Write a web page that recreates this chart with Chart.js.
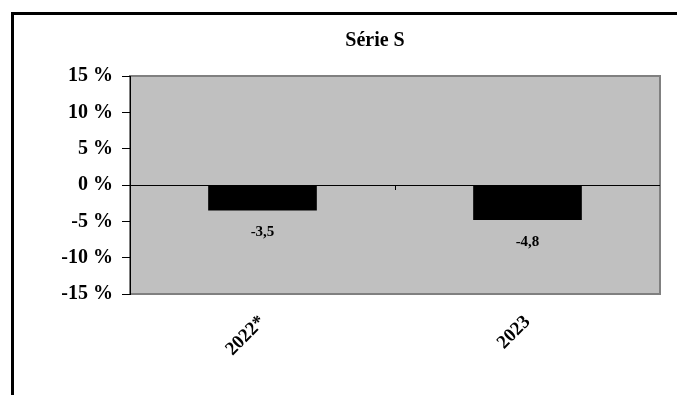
<!DOCTYPE html>
<html>
<head>
<meta charset="utf-8">
<script src="https://cdn.jsdelivr.net/npm/chart.js@4/dist/chart.umd.min.js"></script>
<style>
  html, body { margin: 0; padding: 0; background: #fff; }
  #frame {
    position: absolute; left: 11px; top: 12px; width: 700px; height: 400px;
    border-left: 3px solid #000; border-top: 3px solid #000;
  }
  #wrap { position: absolute; left: 0; top: 0; width: 677px; height: 395px; }
</style>
</head>
<body>
<div id="frame"></div>
<div id="wrap"><canvas id="myChart" width="677" height="395"></canvas></div>
<script>
const categories = ['2022*', '2023'];
const values = [-3.5, -4.8];
const yMin = -15, yMax = 15, yStep = 5;
const chartTitle = 'Série S';

const serif = "'Liberation Serif', 'Times New Roman', serif";

// grey plot area + border like the old excel chart
const plotBg = {
  id: 'plotBg',
  beforeDraw(chart) {
    const a = chart.chartArea, c = chart.ctx;
    c.save();
    c.fillStyle = '#c0c0c0';
    c.fillRect(a.left, a.top, a.right - a.left, a.bottom - a.top);
    c.strokeStyle = '#808080';
    c.lineWidth = 2;
    c.strokeRect(a.left, a.top, a.right - a.left, a.bottom - a.top);
    c.restore();
  }
};

const extras = {
  id: 'extras',
  afterDatasetsDraw(chart) {
    const c = chart.ctx, x = chart.scales.x, y = chart.scales.y;
    const y0 = y.getPixelForValue(0);
    c.save();
    // category tick marks on the zero line
    c.strokeStyle = '#000';
    c.lineWidth = 1;
    for (let i = 0; i < categories.length - 1; i++) {
      const xb = Math.round((x.getPixelForTick(i) + x.getPixelForTick(i + 1)) / 2) + 0.5;
      c.beginPath(); c.moveTo(xb, y0); c.lineTo(xb, y0 + 5); c.stroke();
    }
    // value labels
    c.fillStyle = '#000';
    c.font = 'bold 15px ' + serif;
    c.textAlign = 'center';
    c.textBaseline = 'middle';
    chart.getDatasetMeta(0).data.forEach((bar, i) => {
      c.fillText(values[i].toFixed(1).replace('.', ','), bar.x, bar.y + 22);
    });
    // title
    c.font = 'bold 20px ' + serif;
    c.fillText(chartTitle, 375, 41);
    c.restore();
  }
};

const ctx = document.getElementById('myChart');
const myChart = new Chart(ctx, {
  type: 'bar',
  data: {
    labels: categories,
    datasets: [{
      data: values,
      backgroundColor: '#000',
      borderWidth: 0,
      barPercentage: 0.41,
      categoryPercentage: 1,
    }],
  },
  plugins: [plotBg, extras],
  options: {
    responsive: false,
    animation: false,
    layout: { padding: { top: 76, right: 17, left: 0, bottom: 0 } },
    plugins: {
      legend: { display: false },
      title: { display: false },
      tooltip: { enabled: false },
    },
    scales: {
      y: {
        min: yMin,
        max: yMax,
        afterFit(scale) { scale.width = 130; },
        ticks: {
          stepSize: yStep,
          color: '#000',
          padding: 9,
          font: { family: serif, size: 20, weight: 'bold' },
          callback: (v) => v + ' %',
        },
        grid: {
          color: (c) => (c.tick && c.tick.value === 0 ? '#000' : 'rgba(0,0,0,0)'),
          tickColor: '#000',
          tickLength: 8,
        },
        border: { color: '#000', width: 1 },
      },
      x: {
        afterFit(scale) { scale.height = 101; },
        grid: { display: false, drawTicks: false },
        border: { display: false },
        ticks: {
          color: '#000',
          minRotation: 45,
          maxRotation: 45,
          padding: 17,
          font: { family: serif, size: 19, weight: 'bold' },
        },
      },
    },
  },
});
</script>
</body>
</html>
